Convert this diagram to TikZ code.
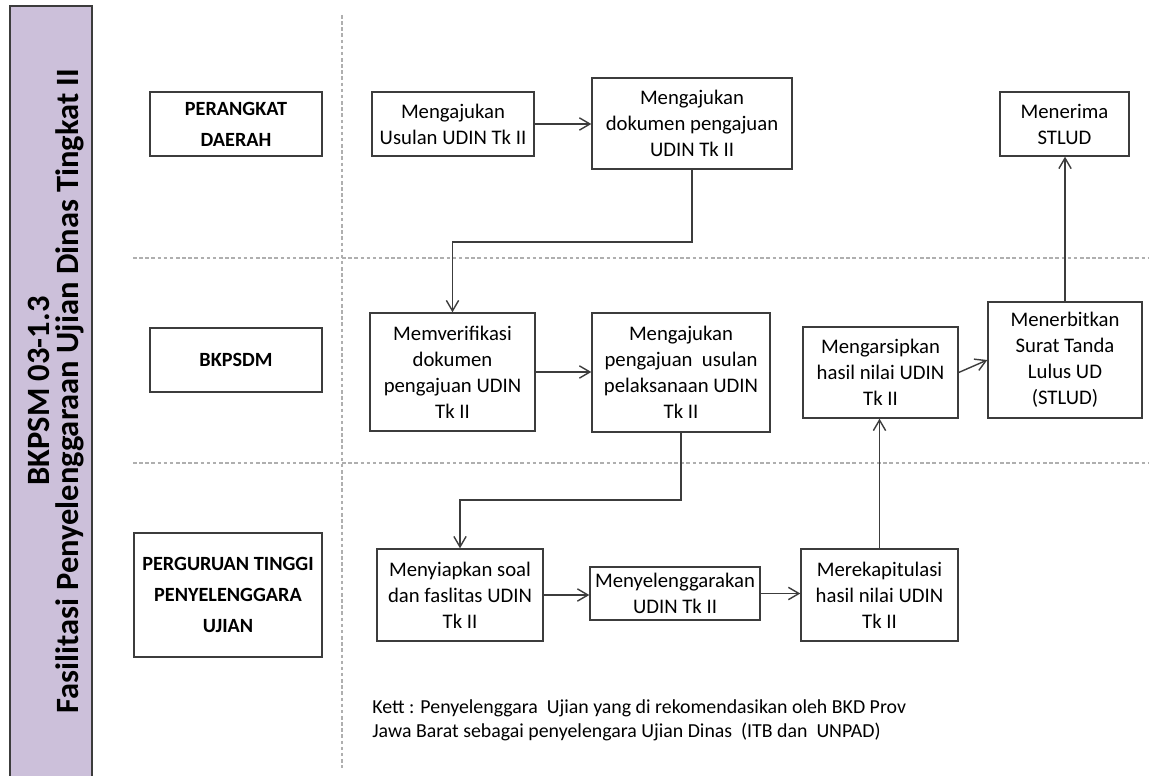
\documentclass[tikz,border=0pt]{standalone}
\usepackage{fontspec}
\setmainfont{Carlito}
\usepackage{tikz}
\usetikzlibrary{arrows.meta, positioning}
\definecolor{barpurple}{RGB}{204, 192, 218}
\definecolor{linegray}{RGB}{60, 60, 60}
\definecolor{sepgray}{RGB}{175, 175, 175}

\begin{document}
\begin{tikzpicture}[
  x=0.02cm, y=-0.02cm,
  every node/.style={font=\fontsize{11.8}{14.8}\selectfont},
  lane/.style={draw=linegray, line width=0.8pt, align=center, inner sep=0pt, font=\bfseries\fontsize{11.5}{17.6}\selectfont},
  box/.style={draw=linegray, line width=0.8pt, align=center, inner sep=0pt},
  arrow/.style={-{Straight Barb[length=6pt, width=7pt]}, line width=0.8pt, color=linegray},
  sep/.style={draw=sepgray, line width=0.6pt, dash pattern=on 2pt off 1.5pt}
]
  \useasboundingbox (0,0) rectangle (1149,776);

  % Judul
  \draw[draw=linegray, fill=barpurple, line width=0.8pt] (10,6) rectangle (92,780);
  \node[rotate=90, align=center, inner sep=0pt, font=\bfseries\fontsize{18.5}{16.5}\selectfont] (title) at (56,391)
    {BKPSM 03-1.3\\Fasilitasi Penyelenggaraan Ujian Dinas Tingkat II};

  % Garis lajur
  \draw[sep] (342,15) -- (342,768);
  \draw[sep] (133,258) -- (1149,258);
  \draw[sep] (133,463) -- (1149,463);

  % Lajur
  \node[lane, minimum width=3.44cm, minimum height=1.28cm] (pd) at (236,124) {PERANGKAT\\DAERAH};
  \node[lane, minimum width=3.44cm, minimum height=1.28cm] (bkpsdm) at (236,360) {BKPSDM};
  \node[lane, minimum width=3.76cm, minimum height=2.48cm] (pt) at (228,595) {PERGURUAN TINGGI\\PENYELENGGARA\\UJIAN};

  % Perangkat Daerah
  \node[box, minimum width=3.24cm, minimum height=1.28cm] (usul) at (453,124) {Mengajukan\\Usulan UDIN Tk II};
  \node[box, minimum width=4.0cm, minimum height=1.82cm] (dok) at (692,123.5) {Mengajukan\\dokumen pengajuan\\UDIN Tk II};
  \node[box, minimum width=2.58cm, minimum height=1.28cm] (terima) at (1064.5,124) {Menerima\\STLUD};

  % BKPSDM
  \node[box, minimum width=3.3cm, minimum height=2.36cm] (verif) at (452.5,372) {Memverifikasi\\dokumen\\pengajuan UDIN\\Tk II};
  \node[box, minimum width=3.56cm, minimum height=2.38cm] (usulan) at (681,372.5) {Mengajukan\\pengajuan\ \ usulan\\pelaksanaan UDIN\\Tk II};
  \node[box, minimum width=3.1cm, minimum height=1.82cm] (arsip) at (880.5,372.5) {Mengarsipkan\\hasil nilai UDIN\\Tk II};
  \node[box, minimum width=3.08cm, minimum height=2.32cm] (terbit) at (1065,360) {Menerbitkan\\Surat Tanda\\Lulus UD\\(STLUD)};

  % Perguruan Tinggi
  \node[box, minimum width=3.32cm, minimum height=1.84cm] (siap) at (460,595) {Menyiapkan soal\\dan faslitas UDIN\\Tk II};
  \node[box, minimum width=3.4cm, minimum height=1.06cm] (ujian) at (675,593.5) {Menyelenggarakan\\UDIN Tk II};
  \node[box, minimum width=3.14cm, minimum height=1.84cm] (rekap) at (879.5,595) {Merekapitulasi\\hasil nilai UDIN\\Tk II};

  % Keterangan
  \node[anchor=west, align=left, inner sep=0pt, font=\fontsize{11.3}{13.8}\selectfont] (kett) at (372,720)
    {Kett : Penyelenggara\ \ Ujian yang di rekomendasikan oleh BKD Prov\\Jawa Barat sebagai penyelengara Ujian Dinas\ \ (ITB dan\ \ UNPAD)};

  % Alur
  \coordinate (b1) at (692,242);
  \coordinate (b2) at (681,500);
  \draw[arrow] (usul.east) -- (usul.east -| dok.west);
  \draw[arrow] (dok.south) -- (b1) -| (verif.north);
  \draw[arrow] (verif.east) -- (verif.east -| usulan.west);
  \draw[arrow] (usulan.south) -- (b2) -| (siap.north);
  \draw[arrow] (siap.east) -- (siap.east -| ujian.west);
  \draw[arrow] (ujian.east) -- (ujian.east -| rekap.west);
  \draw[arrow] (rekap.north) -- (rekap.north |- arsip.south);
  \draw[arrow] (arsip.east) -- (terbit.west);
  \draw[arrow] (terbit.north) -- (terbit.north |- terima.south);

\end{tikzpicture}
\end{document}
